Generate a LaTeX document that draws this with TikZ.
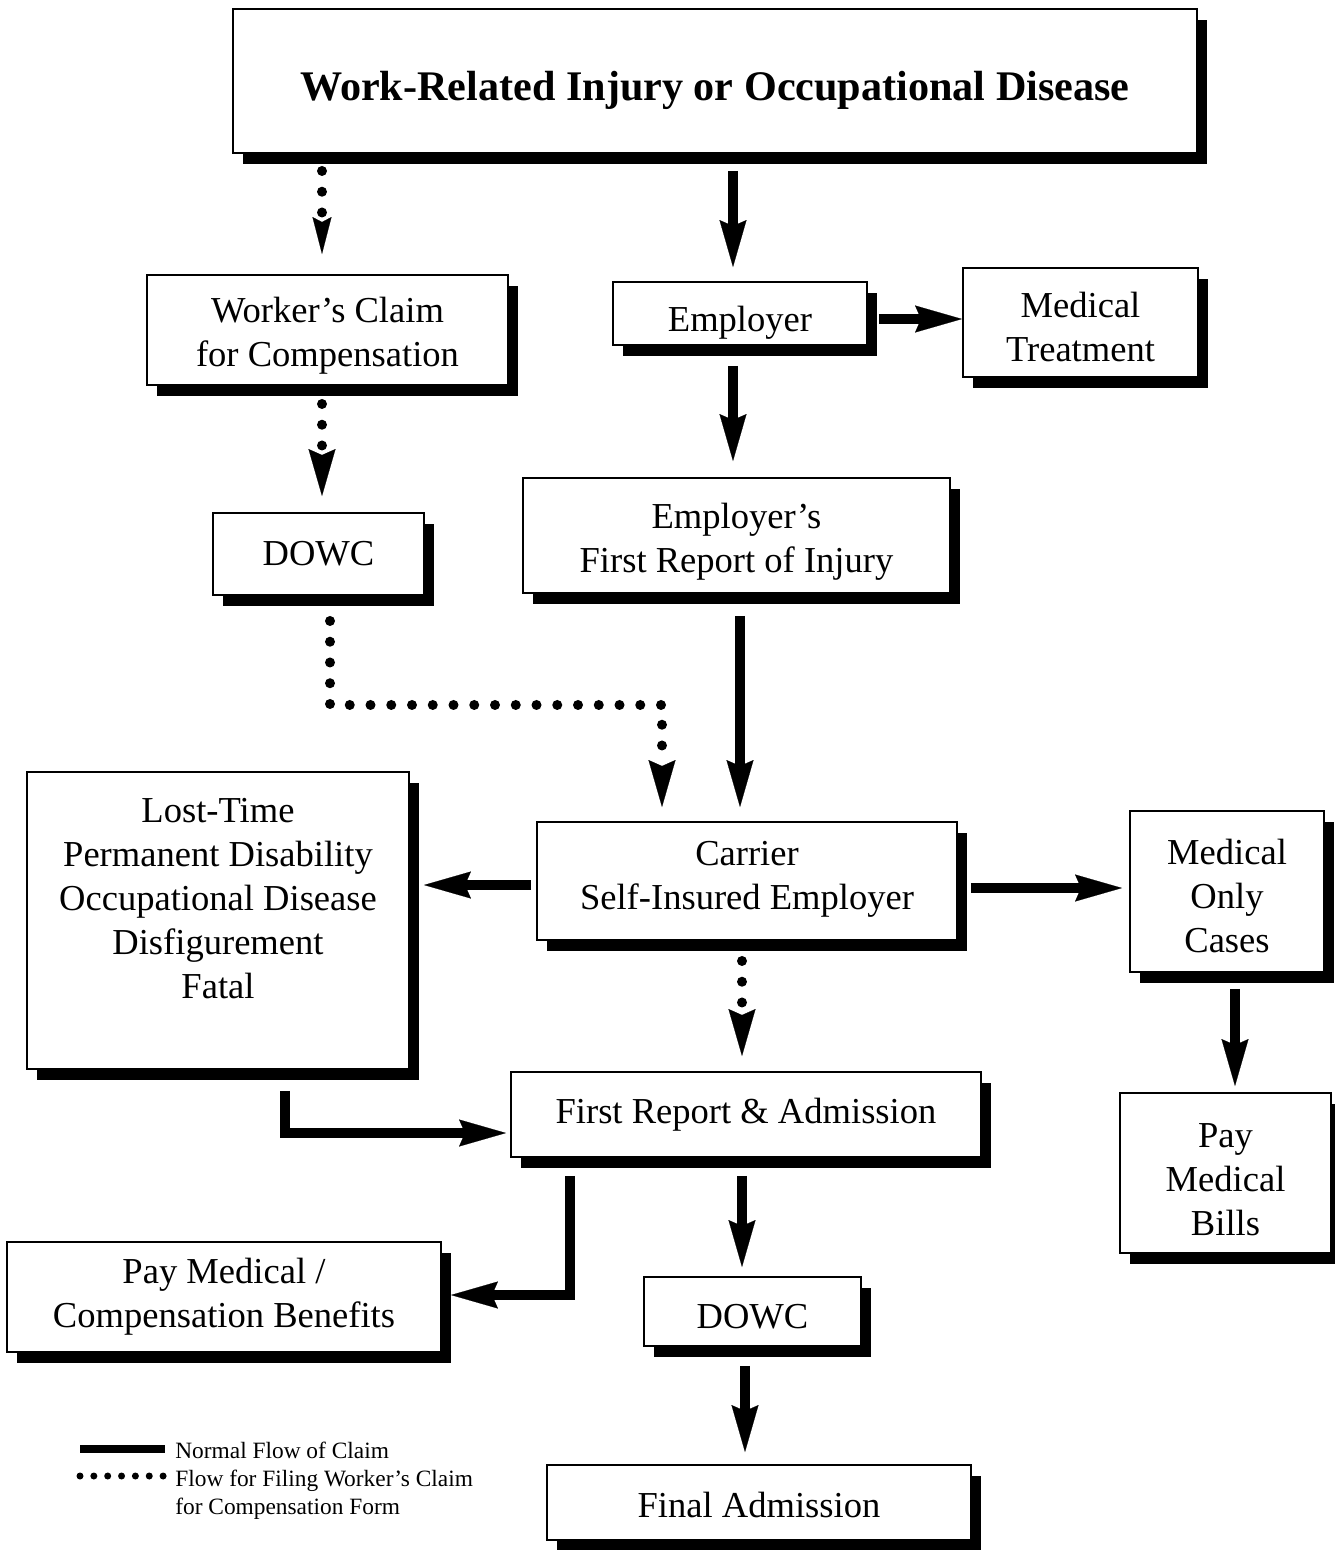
\documentclass[tikz,border=0pt]{standalone}
\usepackage{fontspec}
\setmainfont{Liberation Serif}
\usepackage{tikz}
\usetikzlibrary{arrows.meta,shadows}
\tikzset{
  blk/.style  ={rectangle, draw=black, line width=1.1pt, fill=white, align=center,
                inner sep=0pt, font=\fontsize{20.8}{25}\selectfont,
                drop shadow={shadow xshift=2mm, shadow yshift=-2.2mm, fill=black, opacity=1}},
  arr/.style  ={-{Stealth[length=9.4mm, width=5.4mm, inset=1.2mm, line width=0.1pt]},
                line width=2mm, draw=black},
  darr/.style ={arr, line cap=round, dash pattern=on 0pt off 4.15mm},
}

\begin{document}
\begin{tikzpicture}[x=0.2mm, y=-0.2mm]
  \useasboundingbox (0,0) rectangle (1335,1550);

  \node[blk, minimum width=192.8mm, minimum height=28.8mm, text height=7.8mm, text depth=0pt,
        font=\fontsize{24}{29}\selectfont\bfseries] (title) at (715,81)
    {Work-Related Injury or Occupational Disease};
  \node[blk, minimum width=72.2mm, minimum height=22mm, text height=14.6mm, text depth=0pt] (wcc) at (327.5,330) {Worker's Claim\\for Compensation};
  \node[blk, minimum width=50.8mm, minimum height=12.6mm, text height=7mm, text depth=0pt] (emp) at (740,313.5) {Employer};
  \node[blk, minimum width=47mm, minimum height=21.8mm, text height=15.4mm, text depth=0pt] (medt) at (1080.5,322.5) {Medical\\Treatment};
  \node[blk, minimum width=42.2mm, minimum height=16.4mm] (dowc) at (318.5,554) {DOWC};
  \node[blk, minimum width=85.4mm, minimum height=23mm, text height=14.6mm, text depth=0pt] (efr) at (736.5,535.5) {Employer's\\First Report of Injury};
  \node[blk, minimum width=76.4mm, minimum height=59.4mm] (lost) at (218,920.5)
    {Lost-Time\\Permanent Disability\\Occupational Disease\\Disfigurement\\Fatal\\\mbox{}};
  \node[blk, minimum width=84mm, minimum height=23.6mm, text depth=2.4mm] (carr) at (747,881) {Carrier\\Self-Insured Employer};
  \node[blk, minimum width=38.8mm, minimum height=32.2mm, text height=24.2mm, text depth=0pt] (medo) at (1227,891.5) {Medical\\Only\\Cases};
  \node[blk, minimum width=42.2mm, minimum height=32mm, text height=24.8mm, text depth=0pt] (pmb) at (1225.5,1173) {Pay\\Medical\\Bills};
  \node[blk, minimum width=94mm, minimum height=17mm] (fra) at (746,1114.5) {First Report \& Admission};
  \node[blk, minimum width=86.8mm, minimum height=22mm] (pmc) at (224,1297) {Pay Medical /\\Compensation Benefits};
  \node[blk, minimum width=43.4mm, minimum height=13.8mm, text height=6.8mm, text depth=0pt] (dowcb) at (752.5,1311.5) {DOWC};
  \node[blk, minimum width=84.8mm, minimum height=15mm, text height=5.8mm, text depth=0pt] (fin) at (759,1502.5) {Final Admission};

  % claim form flow
  \draw[darr, -{Stealth[length=7.4mm, width=3.8mm, inset=1mm, line width=0.1pt]}, shorten <=3.4mm, shorten >=4mm]
    ([xshift=-1.1mm]wcc.north |- title.south) -- ([xshift=-1.1mm]wcc.north);
  \draw[darr, shorten <=3.6mm, shorten >=3.2mm] ([xshift=-1.1mm]wcc.south) -- ([xshift=-1.1mm]wcc.south |- dowc.north);
  \draw[darr, shorten <=5mm, shorten >=2.8mm] ([xshift=2.3mm]dowc.south) -- ++(0,109) -| ([xshift=-17mm]carr.north);
  \draw[darr, shorten <=4mm, shorten >=3mm] ([xshift=-1mm]carr.south) -- ([xshift=-1mm]carr.south |- fra.north);

  % normal flow
  \draw[arr, shorten <=3.4mm, shorten >=2.8mm] ([xshift=-1.4mm]emp.north |- title.south) -- ([xshift=-1.4mm]emp.north);
  \draw[arr, shorten <=2.2mm] ([yshift=-1.1mm]emp.east) -- ([yshift=-1.1mm]emp.east -| medt.west);
  \draw[arr, shorten <=4mm, shorten >=3.2mm] ([xshift=-1.4mm]emp.south) -- ([xshift=-1.4mm]emp.south |- efr.north);
  \draw[arr, shorten <=4.4mm, shorten >=2.8mm] ([xshift=0.7mm]efr.south) -- ([xshift=0.7mm]efr.south |- carr.north);
  \draw[arr, shorten <=1mm, shorten >=2.8mm] ([yshift=-0.8mm]carr.west) -- ([yshift=-0.8mm]carr.west -| lost.east);
  \draw[arr, shorten <=2.6mm, shorten >=1.4mm] ([yshift=-1.4mm]carr.east) -- ([yshift=-1.4mm]carr.east -| medo.west);
  \draw[arr, shorten <=3.2mm, shorten >=1.2mm] ([xshift=1.6mm]medo.south) -- ([xshift=1.6mm]medo.south |- pmb.north);
  \draw[arr, shorten <=4.2mm, shorten >=0.8mm] ([xshift=13.4mm]lost.south) |- ([yshift=-3.7mm]fra.west);
  \draw[arr, shorten <=3.6mm, shorten >=1.8mm] ([xshift=-35.2mm]fra.south) |- ([yshift=0.4mm]pmc.east);
  \draw[arr, shorten <=3.6mm, shorten >=1.8mm] ([xshift=-0.8mm]fra.south) -- ([xshift=-0.8mm]fra.south |- dowcb.north);
  \draw[arr, shorten <=3.8mm, shorten >=2.4mm] ([xshift=-1.5mm]dowcb.south) -- ([xshift=-1.5mm]dowcb.south |- fin.north);

  % legend
  \coordinate (lg1) at (80,1449);
  \coordinate (lg2) at (80,1476);
  \draw[line width=1.6mm] (lg1) -- ++(85,0);
  \draw[line width=1.4mm, line cap=round, dash pattern=on 0pt off 2.77mm] (lg2) -- ++(84,0);
  \node[anchor=west, align=left, inner sep=0pt, font=\fontsize{13.3}{15.9}\selectfont] (key) at (175,1481)
    {Normal Flow of Claim\\Flow for Filing Worker's Claim\\for Compensation Form};
\end{tikzpicture}
\end{document}
